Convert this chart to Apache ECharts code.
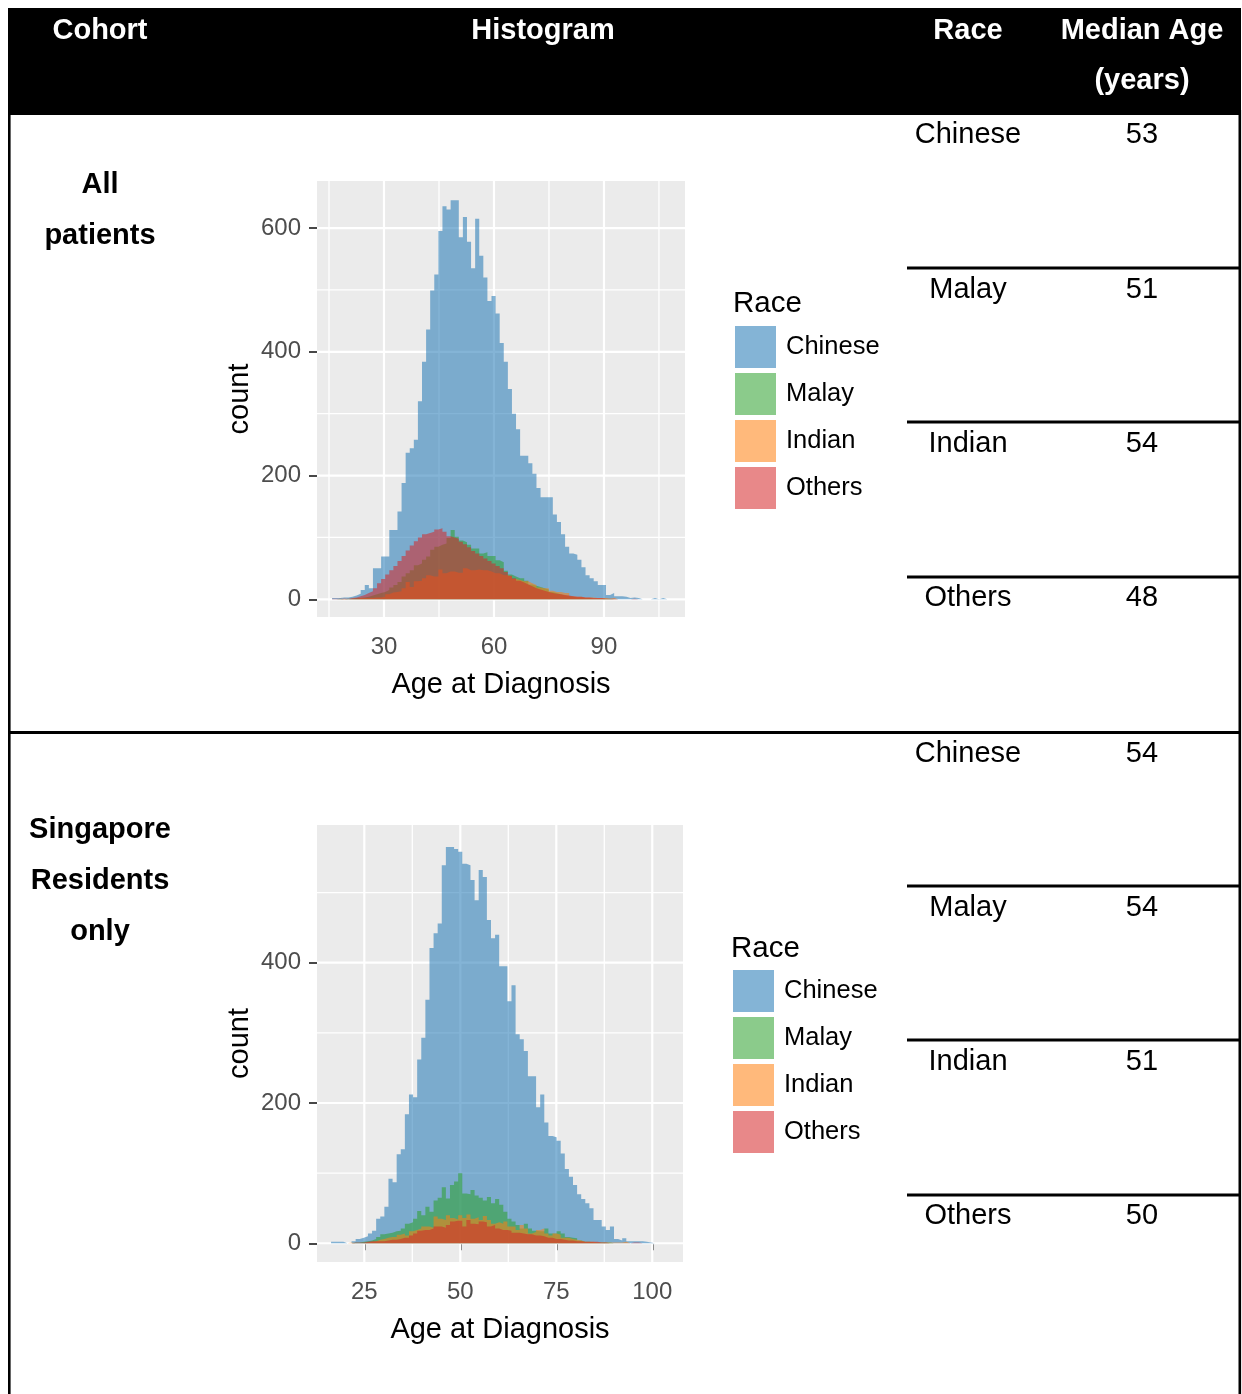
<!DOCTYPE html>
<html>
<head>
<meta charset="utf-8">
<script src="https://cdn.jsdelivr.net/npm/echarts@6/dist/echarts.min.js"></script>
<style>
  html, body { margin: 0; padding: 0; background: #fff; }
  #chart { width: 1242px; height: 1394px; }
</style>
</head>
<body>
<div id="chart"></div>
<script>
// ---------- data ----------
const races = ['Chinese', 'Malay', 'Indian', 'Others'];

// Cohort 1: all patients (histogram counts per age bin)
const allBinStart = 15.84;
const allBinWidth = 1.115;
const allChinese = [
  2, 2, 3, 3, 4, 6, 9, 15, 23, 18,
  50, 50, 69, 69, 112, 112, 142, 188, 237, 244,
  258, 320, 384, 436, 499, 525, 595, 635, 630, 645,
  645, 585, 618, 578, 535, 615, 555, 520, 482, 490,
  462, 414, 384, 340, 300, 275, 232, 232, 220, 203,
  180, 165, 165, 165, 137, 125, 105, 85, 74, 72,
  64, 52, 39, 34, 29, 23, 23, 7, 10, 5,
  5, 4, 2, 3, 2, 0, 0, 0, 2, 0,
  2, 0
];
const allMalay = [
  0, 1, 0, 1, 1, 2, 2, 3, 4, 6,
  8, 10, 12, 15, 19, 23, 28, 37, 42, 47,
  55, 58, 64, 69, 80, 85, 88, 90, 99, 112,
  101, 95, 92, 88, 82, 82, 74, 76, 70, 70,
  63, 60, 46, 40, 37, 34, 34, 30, 24, 22,
  20, 18, 16, 12, 10, 8, 6, 5, 4, 3,
  3, 2, 2, 1, 1, 1, 1, 1, 0, 0,
  0, 0, 0, 0, 0, 0, 0, 0, 0, 0,
  0, 0
];
const allIndian = [
  0, 0, 1, 0, 1, 1, 2, 2, 2, 2,
  3, 3, 4, 8, 11, 12, 13, 18, 28, 20,
  29, 30, 34, 39, 37, 37, 48, 42, 45, 45,
  43, 43, 50, 47, 47, 48, 47, 47, 45, 42,
  42, 39, 39, 37, 33, 31, 29, 29, 26, 23,
  19, 18, 18, 14, 12, 12, 10, 10, 5, 4,
  4, 3, 3, 3, 2, 2, 2, 1, 2, 0,
  0, 0, 0, 0, 0, 0, 0, 0, 0, 0,
  0, 0
];
const allOthers = [
  1, 1, 1, 1, 2, 3, 5, 7, 10, 13,
  18, 26, 33, 40, 47, 54, 62, 70, 79, 87,
  94, 100, 105, 107, 109, 113, 115, 109, 102, 100,
  98, 93, 89, 84, 78, 74, 70, 66, 62, 58,
  54, 50, 44, 38, 34, 30, 27, 24, 21, 18,
  16, 14, 12, 10, 9, 8, 7, 6, 5, 4,
  4, 3, 3, 2, 2, 2, 1, 1, 1, 0,
  0, 0, 0, 1, 0, 0, 0, 0, 0, 0,
  0, 2
];
const allXTicks = [30, 60, 90];
const allXMinor = [15, 45, 75, 105];
const allYTicks = [0, 200, 400, 600];
const allYMinor = [100, 300, 500];
const allMedian = [53, 51, 54, 48];

// Cohort 2: Singapore residents only
const resBinStart = 16.34;
const resBinWidth = 1.068;
const resChinese = [
  2, 2, 2, 0, 0, 3, 6, 8, 10, 14,
  18, 35, 38, 52, 92, 87, 127, 134, 184, 212,
  208, 262, 293, 347, 421, 442, 456, 539, 565, 565,
  562, 558, 541, 539, 518, 489, 532, 522, 461, 435,
  440, 395, 395, 345, 368, 298, 291, 274, 238, 238,
  194, 212, 172, 153, 151, 146, 128, 106, 95, 83,
  70, 63, 57, 50, 33, 33, 24, 19, 24, 6,
  4, 7, 3, 3, 3, 3, 2, 1, 0, 0,
  0, 1
];
const resMalay = [
  0, 0, 0, 0, 0, 1, 1, 2, 3, 4,
  6, 9, 13, 14, 15, 17, 18, 21, 28, 30,
  35, 46, 40, 52, 45, 61, 65, 80, 64, 83,
  88, 100, 71, 70, 76, 68, 65, 61, 66, 57,
  63, 55, 45, 35, 31, 26, 21, 28, 21, 18,
  17, 17, 21, 14, 14, 17, 14, 9, 8, 7,
  4, 2, 2, 1, 1, 1, 1, 1, 0, 0,
  0, 0, 0, 0, 0, 0, 0, 0, 0, 0,
  0, 0
];
const resIndian = [
  0, 0, 0, 0, 1, 0, 0, 0, 1, 2,
  3, 5, 6, 8, 9, 9, 12, 14, 11, 17,
  19, 21, 24, 24, 22, 38, 35, 33, 40, 36,
  34, 40, 36, 41, 35, 37, 33, 39, 33, 28,
  30, 28, 31, 24, 24, 19, 26, 21, 14, 16,
  19, 21, 14, 11, 14, 12, 8, 8, 6, 5,
  4, 2, 2, 2, 1, 1, 1, 1, 1, 1,
  1, 2, 0, 0, 0, 0, 0, 0, 0, 0,
  0, 0
];
const resOthers = [
  0, 0, 0, 0, 0, 1, 1, 1, 2, 3,
  3, 3, 3, 4, 5, 5, 6, 8, 8, 11,
  14, 18, 19, 19, 21, 24, 24, 22, 26, 31,
  32, 32, 24, 33, 28, 27, 31, 30, 24, 26,
  21, 19, 19, 18, 15, 15, 14, 13, 13, 11,
  11, 10, 8, 8, 6, 6, 5, 4, 4, 3,
  3, 2, 2, 2, 2, 1, 1, 0, 0, 0,
  0, 0, 0, 1, 1, 0, 0, 0, 0, 0,
  0, 0
];
const resXTicks = [25, 50, 75, 100];
const resXMinor = [37.5, 62.5, 87.5];
const resYTicks = [0, 200, 400];
const resYMinor = [100, 300, 500];
const resMedian = [54, 54, 51, 50];

// ---------- styling ----------
const FONT = "'Liberation Sans', Arial, Helvetica, sans-serif";
const raceColors = [
  'rgba(31,119,180,0.55)',
  'rgba(44,160,44,0.55)',
  'rgba(255,127,14,0.55)',
  'rgba(214,39,40,0.55)'
];

// histogram outline points: one step per bin, closed back to zero
function stepPoints(start, width, counts) {
  const pts = counts.map((c, k) => [start + k * width, c]);
  pts.push([start + counts.length * width, 0]);
  return pts;
}

function histSeries(gridIdx, start, width, arrays) {
  return races.map((name, i) => ({
    type: 'line',
    name: name,
    xAxisIndex: gridIdx,
    yAxisIndex: gridIdx,
    data: stepPoints(start, width, arrays[i]),
    step: 'end',
    symbol: 'none',
    showSymbol: false,
    lineStyle: { width: 0, opacity: 0 },
    itemStyle: { color: raceColors[i] },
    areaStyle: { color: raceColors[i], opacity: 1, origin: 0 },
    z: 2,
    silent: true,
    animation: false
  }));
}

// white panel grid lines (major + minor), drawn under the bars
function gridLineSeries(gridIdx, xMajor, xMinor, yMajor, yMinor) {
  const rows = [];
  xMajor.forEach(v => rows.push([v, 0, 1]));
  xMinor.forEach(v => rows.push([v, 0, 0]));
  yMajor.forEach(v => rows.push([v, 1, 1]));
  yMinor.forEach(v => rows.push([v, 1, 0]));
  return {
    type: 'custom',
    xAxisIndex: gridIdx,
    yAxisIndex: gridIdx,
    data: rows,
    z: 1,
    silent: true,
    animation: false,
    renderItem: function (params, api) {
      const cs = params.coordSys;
      const v = api.value(0);
      const horizontal = api.value(1) === 1;
      const lw = api.value(2) === 1 ? 2.2 : 1.3;
      let shape;
      if (horizontal) {
        const y = api.coord([0, v])[1];
        shape = { x1: cs.x, y1: y, x2: cs.x + cs.width, y2: y };
      } else {
        const x = api.coord([v, 0])[0];
        shape = { x1: x, y1: cs.y, x2: x, y2: cs.y + cs.height };
      }
      return { type: 'line', shape: shape, style: { stroke: '#ffffff', lineWidth: lw } };
    }
  };
}

function xAxisCfg(gridIdx, min, max, ticks) {
  return {
    type: 'value', gridIndex: gridIdx, min: min, max: max,
    name: 'Age at Diagnosis', nameLocation: 'middle', nameGap: 53,
    nameTextStyle: { fontSize: 29, color: '#000', fontFamily: FONT },
    axisLine: { show: false },
    axisTick: { show: true, customValues: ticks, length: 7, lineStyle: { color: '#333', width: 1.8 } },
    axisLabel: { customValues: ticks, margin: 18, fontSize: 24, color: '#4D4D4D', fontFamily: FONT },
    splitLine: { show: false }
  };
}

function yAxisCfg(gridIdx, min, max, ticks) {
  return {
    type: 'value', gridIndex: gridIdx, min: min, max: max,
    name: 'count', nameLocation: 'middle', nameGap: 63, nameRotate: 90,
    nameTextStyle: { fontSize: 29, color: '#000', fontFamily: FONT },
    axisLine: { show: false },
    axisTick: { show: true, customValues: ticks, length: 8, lineStyle: { color: '#333', width: 1.8 } },
    axisLabel: { customValues: ticks, margin: 16, fontSize: 24, color: '#4D4D4D', fontFamily: FONT, padding: [4, 0, 0, 0] },
    splitLine: { show: false }
  };
}

function legendCfg(left, top) {
  return {
    left: left, top: top, orient: 'vertical', padding: 0,
    itemWidth: 41, itemHeight: 42, itemGap: 5, icon: 'rect',
    selectedMode: false,
    itemStyle: { borderWidth: 0 },
    data: races.map((n, i) => ({ name: n, itemStyle: { color: raceColors[i], borderWidth: 0 } })),
    textStyle: { fontSize: 25.5, color: '#000', fontFamily: FONT, padding: [10, 0, 0, 5] }
  };
}

// ---------- table frame and text ----------
function text(str, x, y, size, bold, color, align) {
  return {
    type: 'text', silent: true,
    style: {
      text: str, x: x, y: y + 2,
      fill: color || '#000',
      font: (bold ? 'bold ' : '') + size + 'px ' + FONT,
      align: align || 'center', textAlign: align || 'center',
      verticalAlign: 'middle', textVerticalAlign: 'middle'
    }
  };
}
function hline(x1, x2, y, w) {
  return { type: 'line', silent: true, shape: { x1: x1, y1: y, x2: x2, y2: y }, style: { stroke: '#000', lineWidth: w } };
}
function vline(x, y1, y2, w) {
  return { type: 'line', silent: true, shape: { x1: x, y1: y1, x2: x, y2: y2 }, style: { stroke: '#000', lineWidth: w } };
}

const graphics = [
  { type: 'rect', silent: true, shape: { x: 8, y: 8, width: 1233, height: 107 }, style: { fill: '#000' } },
  vline(9.3, 110, 1394, 2.6),
  vline(1239.8, 110, 1394, 2.6),
  hline(8, 1241, 732.5, 3),
  text('Cohort', 100, 29, 29, true, '#fff'),
  text('Histogram', 543, 29, 29, true, '#fff'),
  text('Race', 968, 29, 29, true, '#fff'),
  text('Median Age', 1142, 29, 29, true, '#fff'),
  text('(years)', 1142, 79, 29, true, '#fff'),
  text('All', 100, 183, 29, true),
  text('patients', 100, 234, 29, true),
  text('Singapore', 100, 828, 29, true),
  text('Residents', 100, 879, 29, true),
  text('only', 100, 930, 29, true),
  text('Race', 733, 302, 29.5, false, '#000', 'left'),
  text('Race', 731, 947, 29.5, false, '#000', 'left')
];
const rowY1 = [133, 288, 442, 596];
const rowY2 = [752, 906, 1060, 1214];
const sepY1 = [268, 422, 577];
const sepY2 = [886, 1040, 1195];
sepY1.concat(sepY2).forEach(y => graphics.push(hline(907, 1241, y, 3)));
races.forEach((r, i) => {
  graphics.push(text(r, 968, rowY1[i], 29, false));
  graphics.push(text(String(allMedian[i]), 1142, rowY1[i], 29, false));
  graphics.push(text(r, 968, rowY2[i], 29, false));
  graphics.push(text(String(resMedian[i]), 1142, rowY2[i], 29, false));
});

// ---------- chart ----------
const chart = echarts.init(document.getElementById('chart'), null, { renderer: 'canvas' });
chart.setOption({
  backgroundColor: '#ffffff',
  animation: false,
  textStyle: { fontFamily: FONT },
  grid: [
    { left: 317, top: 181, width: 368, height: 436, show: true, backgroundColor: '#EBEBEB', borderWidth: 0 },
    { left: 317, top: 825, width: 366, height: 437, show: true, backgroundColor: '#EBEBEB', borderWidth: 0 }
  ],
  xAxis: [
    xAxisCfg(0, 11.73, 112.1, allXTicks),
    xAxisCfg(1, 12.68, 108.0, resXTicks)
  ],
  yAxis: [
    yAxisCfg(0, -28.6, 676, allYTicks),
    yAxisCfg(1, -26.7, 596.3, resYTicks)
  ],
  legend: [legendCfg(735, 326), legendCfg(733, 970)],
  graphic: graphics,
  series: [
    gridLineSeries(0, allXTicks, allXMinor, allYTicks, allYMinor),
    gridLineSeries(1, resXTicks, resXMinor, resYTicks, resYMinor)
  ]
    .concat(histSeries(0, allBinStart, allBinWidth, [allChinese, allMalay, allIndian, allOthers]))
    .concat(histSeries(1, resBinStart, resBinWidth, [resChinese, resMalay, resIndian, resOthers]))
});
</script>
</body>
</html>
